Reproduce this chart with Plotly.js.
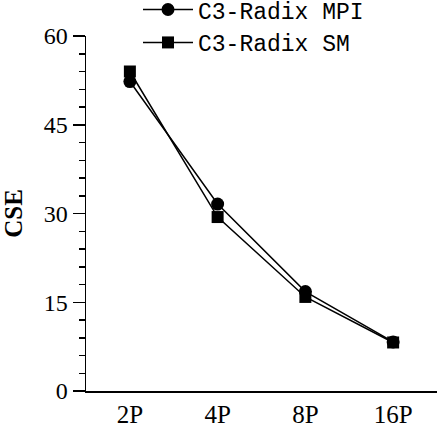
<!DOCTYPE html>
<html><head><meta charset="utf-8">
<script src="https://cdn.plot.ly/plotly-3.0.1.min.js"></script>
<style>html,body{margin:0;padding:0;background:#fff}#chart{width:437px;height:426px}</style>
</head><body><div id="chart"></div>
<script>
const categories = ["2P", "4P", "8P", "16P"];
const mpiValues = [52.3, 31.6, 16.8, 8.3];
const smValues = [54.0, 29.4, 15.9, 8.2];
const seriesNames = ["C3-Radix MPI", "C3-Radix SM"];
const yTicks = [0, 15, 30, 45, 60];

const traces = [
  {x: categories, y: mpiValues, name: seriesNames[0], type: "scatter", mode: "lines+markers",
   line: {color: "#000", width: 1.5}, marker: {symbol: "circle", size: 13, color: "#000"}},
  {x: categories, y: smValues, name: seriesNames[1], type: "scatter", mode: "lines+markers",
   line: {color: "#000", width: 1.5}, marker: {symbol: "square", size: 12, color: "#000"}}
];

const layout = {
  width: 437, height: 426,
  margin: {l: 86, r: 0, t: 36, b: 35, autoexpand: false},
  paper_bgcolor: "#fff", plot_bgcolor: "#fff",
  showlegend: true,
  legend: {x: 0, xref: "paper", y: 1.135, yanchor: "top", xanchor: "left",
    font: {family: "Liberation Mono, Courier New, monospace", size: 23, color: "#000"},
    bgcolor: "rgba(0,0,0,0)", itemwidth: 50, tracegroupgap: 0},
  xaxis: {type: "category", categoryorder: "array", categoryarray: categories,
    range: [-0.5, 3.5], showline: true, linecolor: "#000", linewidth: 1.5,
    showgrid: false, zeroline: false, ticks: "",
    tickfont: {family: "Liberation Serif, Times New Roman, serif", size: 25, color: "#000"}},
  yaxis: {range: [0, 60], tickvals: yTicks, showline: true, linecolor: "#000", linewidth: 1.5,
    showgrid: false, zeroline: false, ticks: "outside", ticklen: 12, tickwidth: 1.5, tickcolor: "#000",
    minor: {dtick: 3, ticks: "outside", ticklen: 6, tickwidth: 1.5, tickcolor: "#000", showgrid: false},
    tickfont: {family: "Liberation Serif, Times New Roman, serif", size: 24, color: "#000"},
    title: {text: "<b>CSE</b>", standoff: 16,
      font: {family: "Liberation Serif, Times New Roman, serif", size: 25, color: "#000"}}}
};
layout.legend.x = (138 - 86) / 351;
Plotly.newPlot("chart", traces, layout, {displayModeBar: false, staticPlot: true});
</script></body></html>
